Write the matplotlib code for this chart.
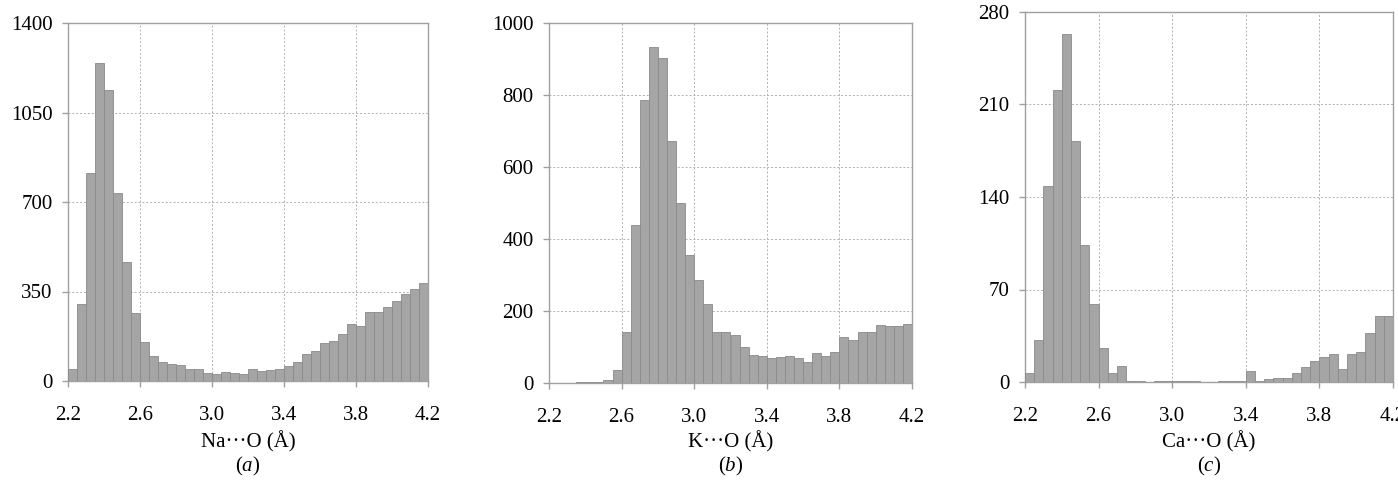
import numpy as np
import matplotlib
matplotlib.use("Agg")
import matplotlib.pyplot as plt

plt.rcParams['font.family'] = ['Liberation Serif', 'DejaVu Serif']
plt.rcParams['mathtext.fontset'] = 'custom'
plt.rcParams['mathtext.rm'] = 'Liberation Serif'
plt.rcParams['mathtext.it'] = 'Liberation Serif:italic'

# histogram bins: 2.20 .. 4.20 step 0.05 (40 bins)
bin_edges = np.round(np.arange(2.20, 4.201, 0.05), 2)

na_counts = [48, 303, 812, 1244, 1137, 737, 464, 266, 152, 97,
             74, 66, 61, 48, 45, 32, 26, 36, 32, 29,
             48, 38, 42, 45, 58, 75, 105, 116, 150, 156,
             182, 224, 215, 269, 269, 290, 312, 339, 360, 384]

k_counts = [1, 1, 1, 2, 2, 3, 9, 35, 142, 438,
            787, 933, 903, 672, 501, 356, 286, 219, 143, 142,
            132, 99, 79, 76, 70, 72, 76, 70, 58, 82,
            74, 85, 127, 119, 141, 141, 160, 157, 158, 165]

ca_counts = [7, 32, 148, 221, 263, 182, 104, 59, 26, 7,
             12, 1, 1, 0, 1, 1, 0.5, 1, 1, 0,
             0, 1, 1, 0.5, 8, 0.5, 2, 3, 3, 7,
             11, 16, 19, 21, 10, 21, 23, 37, 50, 50]

xticks = [2.2, 2.6, 3.0, 3.4, 3.8, 4.2]

panels = [
    (na_counts, [0, 350, 700, 1050, 1400], "Na\u00b7\u00b7\u00b7O (\u00c5)", "($a$)",
     [68, 428, 23, 381]),
    (k_counts, [0, 200, 400, 600, 800, 1000], "K\u00b7\u00b7\u00b7O (\u00c5)", "($b$)",
     [549, 912, 23, 383]),
    (ca_counts, [0, 70, 140, 210, 280], "Ca\u00b7\u00b7\u00b7O (\u00c5)", "($c$)",
     [1025, 1393, 12, 382]),
]

W, H = 1398, 482
fig = plt.figure(figsize=(W / 100, H / 100), dpi=100)

for counts, yticks, xlabel, tag, (l, r, t, b) in panels:
    ax = fig.add_axes([l / W, 1 - b / H, (r - l) / W, (b - t) / H])
    ax.bar(bin_edges[:-1], counts, width=0.05, align='edge',
           color='#a5a5a5', edgecolor='#8a8a8a', linewidth=0.6, zorder=3)
    ax.set_xlim(2.2, 4.2)
    ax.set_ylim(0, yticks[-1])
    ax.set_xticks(xticks)
    ax.set_xticklabels([f"{v:.1f}" for v in xticks])
    ax.set_yticks(yticks)
    ax.grid(True, color='#b0b0b0', linestyle=(0, (2, 2)), linewidth=0.7, zorder=0)
    for s in ax.spines.values():
        s.set_color('#a0a0a0')
        s.set_linewidth(1.0)
    ax.tick_params(axis='both', labelsize=15, color='#a0a0a0', length=4,
                   width=1, pad=7)
    ax.tick_params(axis='x', pad=14)
    xc = (l + r) / 2 / W
    fig.text(xc, 1 - 442 / H, xlabel, ha='center', va='center', fontsize=15)
    fig.text(xc, 1 - 466 / H, tag, ha='center', va='center', fontsize=15)

fig.savefig("out.png", dpi=100)
